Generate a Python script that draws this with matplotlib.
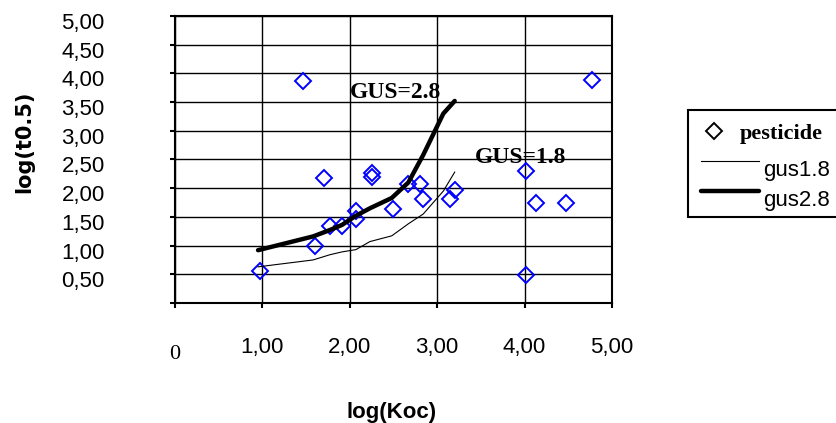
import numpy as np
import matplotlib.pyplot as plt
from matplotlib.transforms import ScaledTranslation
from matplotlib.legend_handler import HandlerLine2D

# pesticide points: log(Koc) vs log(t0.5)
koc = [0.97, 1.47, 1.60, 1.71, 1.77, 1.91, 2.07, 2.07, 2.25, 2.25, 2.49,
       2.67, 2.80, 2.84, 3.15, 3.20, 4.02, 4.02, 4.13, 4.47, 4.77]
t05 = [0.56, 3.87, 1.00, 2.18, 1.35, 1.34, 1.60, 1.46, 2.26, 2.20, 1.63,
       2.08, 2.08, 1.81, 1.82, 1.97, 2.30, 0.48, 1.75, 1.75, 3.88]

# GUS boundary curves
gus_x = [0.95, 1.58, 1.77, 1.91, 2.07, 2.23, 2.48, 2.67, 2.84, 3.07, 3.20]
gus18 = [0.63, 0.75, 0.84, 0.89, 0.93, 1.07, 1.17, 1.38, 1.55, 1.95, 2.28]
gus28 = [0.92, 1.16, 1.27, 1.36, 1.52, 1.65, 1.83, 2.10, 2.58, 3.30, 3.52]

xticks = [0, 1, 2, 3, 4, 5]
xtick_labels = ['0', '1,00', '2,00', '3,00', '4,00', '5,00']
yticks = [0, 0.5, 1, 1.5, 2, 2.5, 3, 3.5, 4, 4.5, 5]
ytick_labels = ['', '0,50', '1,00', '1,50', '2,00', '2,50', '3,00',
                '3,50', '4,00', '4,50', '5,00']

sans = 'Liberation Sans'
serif = 'Liberation Serif'


class LeftMarker(HandlerLine2D):
    # excel puts the legend marker left of centre
    def get_xdata(self, legend, xdescent, ydescent, width, height, fontsize):
        xd, xm = super().get_xdata(legend, xdescent, ydescent, width, height, fontsize)
        return [-xdescent, 0.44 * width - xdescent], [0.22 * width - xdescent]


fig = plt.figure(figsize=(8.37, 4.23), dpi=100)
ax = fig.add_axes([0.2091, 0.2837, 0.5221, 0.6785])

pts, = ax.plot(koc, t05, linestyle='none', marker='D', ms=8, mfc='none',
               mec='#0000FF', mew=1.4, label='pesticide', zorder=3)
ax.plot(gus_x, gus18, color='black', lw=0.8, label='gus1.8', zorder=4)
ax.plot(gus_x, gus28, color='black', lw=3.2, label='gus2.8', zorder=4,
        solid_capstyle='round')

ax.text(2.0, 3.66, 'GUS=2.8', family=serif, fontweight='bold', fontsize=17,
        va='center', ha='left', zorder=5)
ax.text(3.43, 2.54, 'GUS=1.8', family=serif, fontweight='bold', fontsize=17,
        va='center', ha='left', zorder=5)

ax.set_xlim(0, 5)
ax.set_ylim(0, 5)
ax.set_xticks(xticks)
ax.set_xticklabels(xtick_labels, family=sans, fontsize=16)
ax.set_yticks(yticks)
ax.set_yticklabels(ytick_labels, family=sans, fontsize=16)
ax.grid(True, color='black', lw=1.0)
ax.set_axisbelow(True)
for s in ax.spines.values():
    s.set_linewidth(1.5)
    s.set_color('black')
ax.tick_params(axis='both', direction='out', length=3.6, width=1.5, color='black')
ax.tick_params(axis='y', pad=47)
ax.tick_params(axis='x', pad=21)

ax.set_xlabel('log(Koc)', family=sans, fontweight='bold', fontsize=16)
ax.xaxis.set_label_coords(0.4966, -0.345)
ax.set_ylabel('log(t0.5)', family='DejaVu Sans', fontweight='bold', fontsize=15)
ax.yaxis.set_label_coords(-0.322, 0.561)

# excel-like label offsets
down = ScaledTranslation(0, -5 / 100, fig.dpi_scale_trans)
for lab in ax.get_yticklabels():
    lab.set_transform(lab.get_transform() + down)
xl = ax.get_xticklabels()
xl[0].set_family(serif)
xl[0].set_transform(xl[0].get_transform() + ScaledTranslation(0, -8 / 100, fig.dpi_scale_trans))

leg = ax.legend(loc='upper left', bbox_to_anchor=(688 / 837, 1 - 110 / 423),
                bbox_transform=fig.transFigure, borderaxespad=0,
                fancybox=False, framealpha=1, edgecolor='black',
                prop={'family': sans, 'size': 16}, handlelength=2.6,
                handletextpad=0.2, labelspacing=0.4, borderpad=0.6,
                handler_map={pts: LeftMarker()})
leg.get_frame().set_linewidth(1.5)
leg.legend_handles[0].set_markeredgecolor('black')
texts = leg.get_texts()
texts[0].set_family(serif)
texts[0].set_fontweight('bold')
texts[0].set_transform(texts[0].get_transform() + ScaledTranslation(-24 / 100, 0, fig.dpi_scale_trans))
for t in texts[1:]:
    t.set_transform(t.get_transform() + ScaledTranslation(0, -7 / 100, fig.dpi_scale_trans))

fig.savefig('out.png', dpi=100)
